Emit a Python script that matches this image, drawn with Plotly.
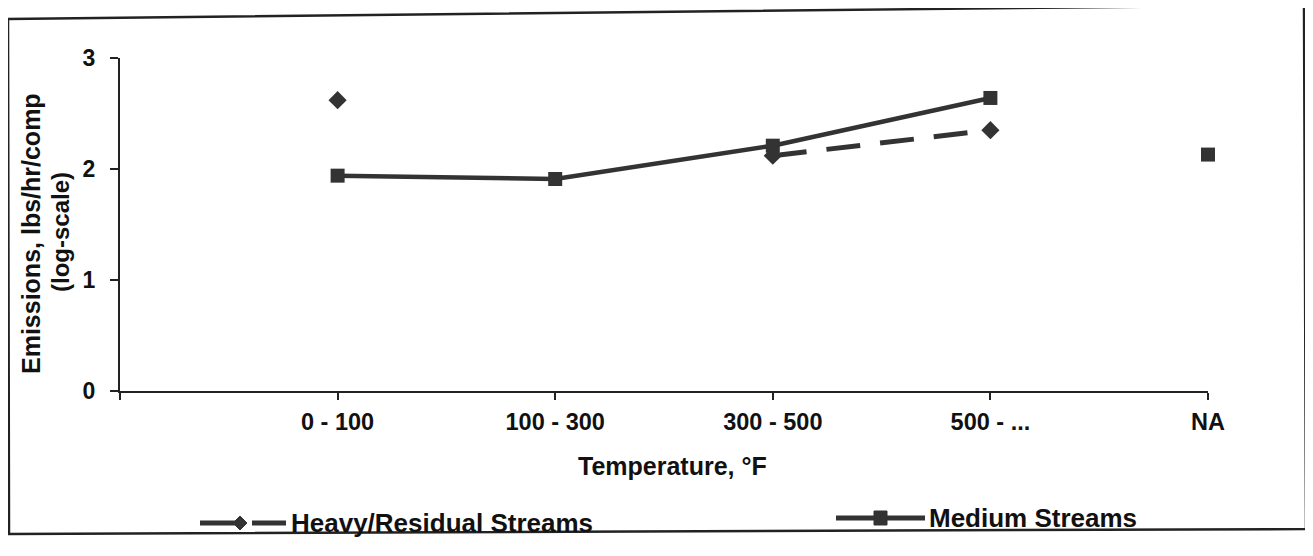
import plotly.graph_objects as go

categories = ["0 - 100", "100 - 300", "300 - 500", "500 - ...", "NA"]
heavy = [2.62, None, 2.12, 2.35, None]
medium = [1.94, 1.91, 2.21, 2.64, 2.13]
y_ticks = [0, 1, 2, 3]

OFF = 8  # page body margin
W, H = 1313 - OFF, 556 - OFF
L, R, T, B = 120, 1208, 58, 391   # plot area in reference pixels
C = "#333333"
FONT = "Liberation Sans, Arial, sans-serif"
TXT = "#111111"

def px(x):
    return (x - L) / (R - L)

def py(y):
    return (B - y) / (B - T)

xs = list(range(1, len(categories) + 1))

fig = go.Figure()
fig.add_trace(go.Scatter(
    x=xs, y=heavy, mode="lines+markers", connectgaps=False,
    line=dict(color=C, width=5, dash="34px,20px"),
    marker=dict(symbol="diamond", size=14, color=C),
    showlegend=False, cliponaxis=False))
fig.add_trace(go.Scatter(
    x=xs[:4], y=medium[:4], mode="lines",
    line=dict(color=C, width=4.5), showlegend=False, cliponaxis=False))
fig.add_trace(go.Scatter(
    x=xs, y=medium, mode="markers",
    marker=dict(symbol="square", size=14, color=C),
    showlegend=False, cliponaxis=False))

shapes = []
shapes.append(dict(type="path", xref="paper", yref="paper",
                   path=f"M {px(8)} {py(19)} L {px(1304)} {py(5)} L {px(1306)} {py(529)} L {px(9)} {py(534)} Z",
                   line=dict(color="#222222", width=2.5), fillcolor="rgba(0,0,0,0)", layer="below"))
ly1 = 523
shapes.append(dict(type="line", xref="paper", yref="paper", x0=px(200), x1=px(236), y0=py(ly1), y1=py(ly1),
                   line=dict(color=C, width=5)))
shapes.append(dict(type="path", xref="paper", yref="paper",
                   path=f"M {px(233)} {py(ly1)} L {px(240)} {py(ly1-7)} L {px(247)} {py(ly1)} L {px(240)} {py(ly1+7)} Z",
                   fillcolor=C, line=dict(color=C, width=1)))
shapes.append(dict(type="line", xref="paper", yref="paper", x0=px(252), x1=px(286), y0=py(ly1), y1=py(ly1),
                   line=dict(color=C, width=5)))
ly2 = 518
shapes.append(dict(type="line", xref="paper", yref="paper", x0=px(836), x1=px(925), y0=py(ly2), y1=py(ly2),
                   line=dict(color=C, width=5)))
shapes.append(dict(type="rect", xref="paper", yref="paper", x0=px(874), x1=px(887), y0=py(ly2+7), y1=py(ly2-7),
                   fillcolor=C, line=dict(color=C, width=1)))

def ann(text, x, y, size, xanchor="center", angle=0):
    return dict(text=text, xref="paper", yref="paper", x=px(x), y=py(y),
                xanchor=xanchor, yanchor="middle", showarrow=False, textangle=angle,
                font=dict(family=FONT, size=size, color=TXT, weight="bold"))

annotations = [
    ann("Heavy/Residual Streams", 289, ly1, 26, "left"),
    ann("Medium Streams", 927, ly2, 26, "left"),
    ann("Temperature, °F", 672, 466, 25),
    ann("Emissions, lbs/hr/comp", 31, 234, 25, angle=-90),
    ann("(log-scale)", 60, 232, 24, angle=-90),
]

fig.update_layout(
    width=W, height=H,
    margin=dict(l=L - OFF, r=W - (R - OFF), t=T - OFF, b=H - (B - OFF), pad=0),
    paper_bgcolor="white", plot_bgcolor="white",
    shapes=shapes, annotations=annotations,
    font=dict(family=FONT, color=TXT),
    xaxis=dict(range=[0, 5], tickmode="array", tickvals=[0] + xs, ticktext=[""] + categories,
               showgrid=False, zeroline=False, showline=True, linecolor="#222222", linewidth=2,
               ticks="outside", ticklen=7, tickwidth=2, tickcolor="#222222",
               tickfont=dict(family=FONT, size=23.5, color=TXT, weight="bold"),
               ticklabelstandoff=2),
    yaxis=dict(range=[0, 3], tickmode="array", tickvals=y_ticks,
               showgrid=False, zeroline=False, showline=True, linecolor="#222222", linewidth=2,
               ticks="outside", ticklen=8, tickwidth=2, tickcolor="#222222",
               tickfont=dict(family=FONT, size=23, color=TXT, weight="bold"),
               ticklabelstandoff=10),
)

fig.write_html("out.html")
